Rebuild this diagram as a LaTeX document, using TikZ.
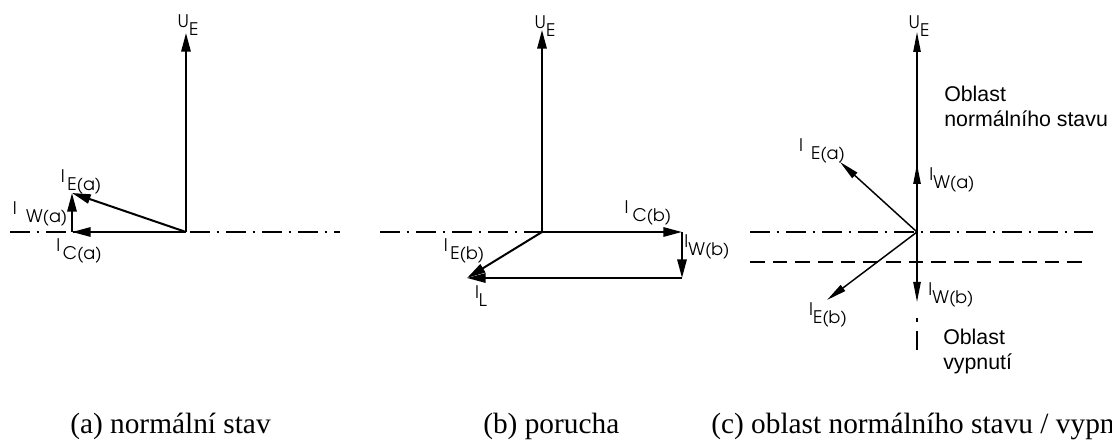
\documentclass[tikz,border=0pt]{standalone}
\usepackage{fontspec}
\setmainfont{Liberation Serif}
\newfontfamily\armfont{Liberation Sans}
\newfontfamily\gothic{TeX Gyre Adventor}
\usetikzlibrary{arrows.meta}

% proud I s indexem posunutym dolu
\newcommand{\cur}[2][1pt]{I\hspace{#1}\raisebox{-.45em}{#2}}
\newcommand{\volt}{U\raisebox{-.45em}{E}}

\begin{document}
\begin{tikzpicture}[
x=0.75pt, y=-0.75pt,
vec/.style={-{Triangle[length=14pt, width=7pt]}, line width=1.5pt},
thinvec/.style={-{Triangle[length=15pt, width=5.5pt]}, line width=1.1pt},
axis/.style={line width=0.9pt, dash pattern=on 15pt off 5pt on 2pt off 5pt},
limit/.style={line width=1.1pt, dash pattern=on 11pt off 6pt},
lbl/.style={font=\gothic\fontsize{13}{15}\selectfont, inner sep=0pt},
note/.style={font=\armfont\fontsize{16}{18.75}\selectfont, align=left, inner sep=0pt, anchor=north west},
caption/.style={font=\fontsize{22}{26}\selectfont, inner sep=0pt, anchor=base west}
]
\useasboundingbox (0,0) rectangle (1112,441);

% --- (a) normalni stav ---
\coordinate (oa) at (186,232);
\coordinate (ua) at (186,33);
\coordinate (ca) at (72,232);
\coordinate (ea) at (72,193);

\draw[axis] (10,232) -- (340,232);
\draw[vec] (oa) -- (ua);
\draw[vec] (oa) -- (ca);
\draw[vec] (ca) -- (ea);
\draw[vec] (oa) -- (ea);

\node[lbl] (uea) at (188,25) {\volt};
\node[lbl] (iea) at (81,182) {\cur[2pt]{E(a)}};
\node[lbl] (iwa) at (40,214) {\cur[7pt]{W(a)}};
\node[lbl] (ica) at (79,251) {\cur[2pt]{C(a)}};

% --- (b) porucha ---
\coordinate (ob) at (542,232);
\coordinate (ub) at (542,30);
\coordinate (cb) at (682,232);
\coordinate (wb) at (682,278);
\coordinate (lb) at (467,278);

\draw[axis] (380,232) -- (ob);
\draw[vec] (ob) -- (ub);
\draw[vec] (ob) -- (cb);
\draw[vec] (cb) -- (wb);
\draw[vec] (wb) -- (lb);
\draw[vec] (ob) -- (lb);

\node[lbl] (ueb) at (545,26) {\volt};
\node[lbl] (icb) at (648,213) {\cur[3pt]{C(b)}};
\node[lbl] (iwb) at (707,247) {\cur[0pt]{W(b)}};
\node[lbl] (ieb) at (464,251) {\cur[2pt]{E(b)}};
\node[lbl] (il) at (481,296) {\cur[0pt]{L}};

% --- (c) oblast normalniho stavu / vypnuti ---
\coordinate (oc) at (917,232);
\coordinate (uc) at (917,32);
\coordinate (wac) at (917,164);
\coordinate (wbc) at (917,302);
\coordinate (eac) at (840,162);
\coordinate (ebc) at (827,300);

\draw[axis] (750,232) -- (1093,232);
\draw[limit] (750,262) -- (1087,262);
\draw[thinvec] (oc) -- (uc);
\draw[thinvec] (oc) -- (wac);
\draw[thinvec] (oc) -- (wbc);
\draw[thinvec] (oc) -- (eac);
\draw[thinvec] (oc) -- (ebc);
% pokracovani osy dolu
\draw[line width=1.1pt] (917,318) -- (917,322);
\draw[line width=1.1pt] (917,331) -- (917,350);

\node[lbl] (uec) at (919,26) {\volt};
\node[lbl] (ieac) at (822,151) {\cur[6pt]{E(a)}};
\node[lbl] (iwac) at (952,180) {\cur[0pt]{W(a)}};
\node[lbl] (iwbc) at (951,295) {\cur[0pt]{W(b)}};
\node[lbl] (iebc) at (828,315) {\cur[0pt]{E(b)}};

\node[note] (normal) at (944,86) {Oblast\\normálního stavu};
\node[note] (trip) at (943,329) {Oblast\\vypnutí};

% --- popisky ---
\node[caption] (capa) at (70,433) {(a) normální stav};
\node[caption] (capb) at (483,433) {(b) porucha};
\node[caption] (capc) at (711,433) {(c) oblast normálního stavu / vypnutí};

\end{tikzpicture}
\end{document}
